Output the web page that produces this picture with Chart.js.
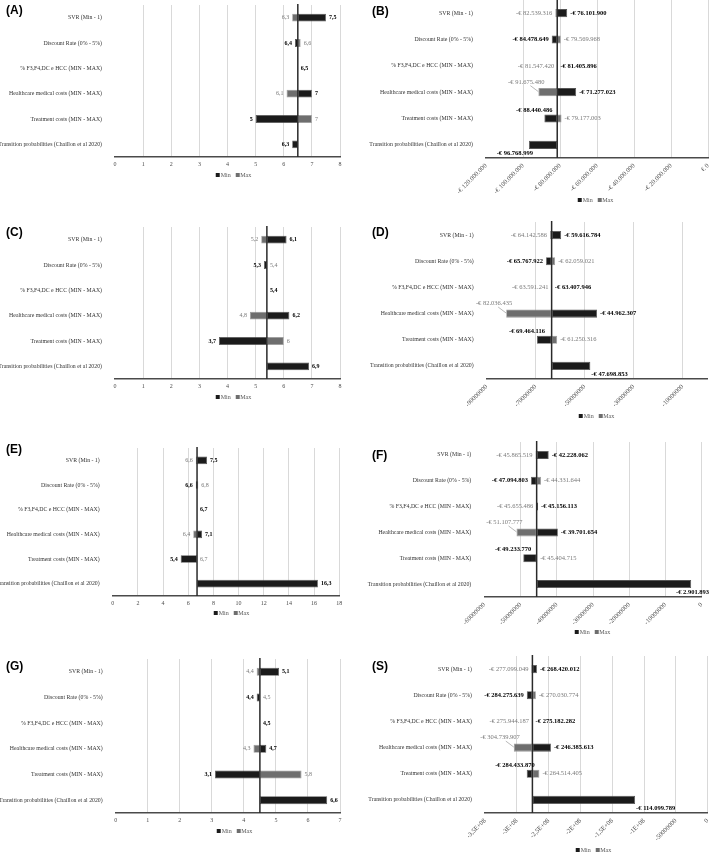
<!DOCTYPE html>
<html>
<head>
<meta charset="utf-8">
<script src="https://cdn.jsdelivr.net/npm/chart.js@4.4.1/dist/chart.umd.min.js"></script>
<style>
  body { margin:0; width:709px; height:852px; overflow:hidden; background:#fff; position:relative; font-family:"Liberation Serif", serif; }
  .panel { position:absolute; }
  .tag { position:absolute; font:bold 12px "Liberation Sans", Arial, sans-serif; color:#000; line-height:12px; }
  .legend { position:absolute; font:6px "Liberation Serif", serif; color:#595959; line-height:8px; transform:translateX(-50%); white-space:nowrap; }
  .legend i { display:inline-block; width:4px; height:4px; margin:0 1px 0 3px; }
</style>
</head>
<body>
<script>
// ---------- dados ----------
const categories = [
  'SVR (Min - 1)',
  'Discount Rate (0% - 5%)',
  '% F3,F4,DC e HCC (MIN - MAX)',
  'Healthcare medical costs (MIN - MAX)',
  'Treatment costs (MIN - MAX)',
  'Transition probabilities (Chaillon et al 2020)'
];
const seriesNames = ['Min', 'Max'];

// (A)
const baseA = 6.5;
const minA = [7.5, 6.4, 6.5, 7, 5, 6.3];
const maxA = [6.3, 6.6, null, 6.1, 7, null];
const ticksA = [0, 1, 2, 3, 4, 5, 6, 7, 8];
const tickLabelsA = ['0', '1', '2', '3', '4', '5', '6', '7', '8'];

// (B)
const baseB = -81500000;
const minB = [-76101900, -84478649, -81405896, -71277023, -88440486, -96768999];
const maxB = [-82539316, -79569968, -81547420, -91675480, -79177003, null];
const ticksB = [-120000000, -100000000, -80000000, -60000000, -40000000, -20000000, 0];
const tickLabelsB = ['-€ 120.000.000', '-€ 100.000.000', '-€ 80.000.000', '-€ 60.000.000', '-€ 40.000.000', '-€ 20.000.000', '€ 0'];

// (C)
const baseC = 5.4;
const minC = [6.1, 5.3, 5.4, 6.2, 3.7, 6.9];
const maxC = [5.2, 5.4, null, 4.8, 6, null];
const ticksC = [0, 1, 2, 3, 4, 5, 6, 7, 8];
const tickLabelsC = ['0', '1', '2', '3', '4', '5', '6', '7', '8'];

// (D)
const baseD = -63500000;
const minD = [-59616784, -65767922, -63407946, -44962307, -69464116, -47698853];
const maxD = [-64142586, -62059021, -63591241, -82036435, -61250316, null];
const ticksD = [-90000000, -70000000, -50000000, -30000000, -10000000];
const tickLabelsD = ['-90000000', '-70000000', '-50000000', '-30000000', '-10000000'];

// (E)
const baseE = 6.7;
const minE = [7.5, 6.6, 6.7, 7.1, 5.4, 16.3];
const maxE = [6.6, 6.8, null, 6.4, 6.7, null];
const ticksE = [0, 2, 4, 6, 8, 10, 12, 14, 16, 18];
const tickLabelsE = ['0', '2', '4', '6', '8', '10', '12', '14', '16', '18'];

// (F)
const baseF = -45550000;
const minF = [-42228062, -47094803, -45156113, -39701654, -49233770, -2901893];
const maxF = [-45865519, -44331644, -45655486, -51107777, -45404715, null];
const ticksF = [-60000000, -50000000, -40000000, -30000000, -20000000, -10000000, 0];
const tickLabelsF = ['-60000000', '-50000000', '-40000000', '-30000000', '-20000000', '-10000000', '0'];

// (G)
const baseG = 4.5;
const minG = [5.1, 4.4, 4.5, 4.7, 3.1, 6.6];
const maxG = [4.4, 4.5, null, 4.3, 5.8, null];
const ticksG = [0, 1, 2, 3, 4, 5, 6, 7];
const tickLabelsG = ['0', '1', '2', '3', '4', '5', '6', '7'];

// (S)
const baseS = -275500000;
const minS = [-268420012, -284275639, -275182282, -246385613, -284433870, -114099789];
const maxS = [-277099049, -270030774, -275944187, -304739907, -264514405, null];
const ticksS = [-350000000, -300000000, -250000000, -200000000, -150000000, -100000000, -50000000, 0];
const tickLabelsS = ['-3,5E+08', '-3E+08', '-2,5E+08', '-2E+08', '-1,5E+08', '-1E+08', '-50000000', '0'];

// ---------- layout dos painéis ----------
const panels = [
  { tag:'(A)', base:baseA, min:minA, max:maxA, ticks:ticksA, tickLabels:tickLabelsA, money:false,
    area:{ l:115, t:5, r:340, b:157 }, cx:0, cw:355, tagAt:[6, 3.5], legendAt:[232, 175] },
  { tag:'(B)', base:baseB, min:minB, max:maxB, ticks:ticksB, tickLabels:tickLabelsB, money:true,
    area:{ l:486, t:0, r:708, b:158 }, cx:355, cw:370, tagAt:[372, 4.5], legendAt:[594, 200] },
  { tag:'(C)', base:baseC, min:minC, max:maxC, ticks:ticksC, tickLabels:tickLabelsC, money:false,
    area:{ l:115, t:227, r:340, b:379 }, cx:0, cw:355, tagAt:[6, 225.5], legendAt:[232, 397] },
  { tag:'(D)', base:baseD, min:minD, max:maxD, ticks:ticksD, tickLabels:tickLabelsD, money:true, xMax:0,
    area:{ l:486.7, t:222, r:707.2, b:379 }, cx:355, cw:370, tagAt:[372, 225.5], legendAt:[595, 416] },
  { tag:'(E)', base:baseE, min:minE, max:maxE, ticks:ticksE, tickLabels:tickLabelsE, money:false,
    area:{ l:112.7, t:448, r:339.3, b:596 }, cx:0, cw:355, tagAt:[6, 442.5], legendAt:[230, 613] },
  { tag:'(F)', base:baseF, min:minF, max:maxF, ticks:ticksF, tickLabels:tickLabelsF, money:true,
    area:{ l:484.3, t:442, r:701.7, b:597 }, cx:355, cw:370, tagAt:[372, 448.5], legendAt:[591, 632] },
  { tag:'(G)', base:baseG, min:minG, max:maxG, ticks:ticksG, tickLabels:tickLabelsG, money:false,
    area:{ l:115.7, t:659, r:340, b:813 }, cx:0, cw:355, tagAt:[6, 659.5], legendAt:[233, 831] },
  { tag:'(S)', base:baseS, min:minS, max:maxS, ticks:ticksS, tickLabels:tickLabelsS, money:true,
    area:{ l:485, t:656, r:707.7, b:813 }, cx:355, cw:370, tagAt:[372, 659.5], legendAt:[592, 850] }
];

// posições especiais dos rótulos nos gráficos em euro
const moneyCallouts = { max:{ 3:'leader' }, min:{ 4:'above', 5:'below' } };

const MIN_COLOR = '#1b1b1b';
const MAX_COLOR = '#6e6e6e';

function euro(v) {
  const s = String(Math.abs(Math.round(v))).replace(/\B(?=(\d{3})+(?!\d))/g, '.');
  return (v < 0 ? '-€ ' : '€ ') + s;
}
function dec(v) { return String(v).replace('.', ','); }

function buildPanel(p) {
  const rotated = p.money;
  const padTop = 12;
  const xh = rotated ? 50 : 14;
  const padBottom = 6;
  const h = (p.area.b - p.area.t) + padTop + xh + padBottom;
  const wrap = document.createElement('div');
  wrap.className = 'panel';
  wrap.style.cssText = `left:${p.cx}px;top:${p.area.t - padTop}px;width:${p.cw}px;height:${h}px`;
  const cv = document.createElement('canvas');
  cv.width = p.cw; cv.height = h;
  cv.style.width = p.cw + 'px'; cv.style.height = h + 'px';
  wrap.appendChild(cv);
  document.body.appendChild(wrap);

  // linha vertical do caso base
  const baseLine = {
    id: 'baseLine',
    afterDatasetsDraw(chart) {
      const ctx = chart.ctx;
      const x = chart.scales.x.getPixelForValue(p.base);
      const { top, bottom } = chart.chartArea;
      ctx.save();
      ctx.strokeStyle = '#2a2a2a';
      ctx.lineWidth = 1.5;
      ctx.beginPath();
      ctx.moveTo(x, top - 1);
      ctx.lineTo(x, bottom);
      ctx.stroke();
      ctx.restore();
    }
  };

  // rótulos de valor nas pontas das barras
  const valueLabels = {
    id: 'valueLabels',
    afterDatasetsDraw(chart) {
      const ctx = chart.ctx;
      const xs = chart.scales.x, ys = chart.scales.y;
      [p.min, p.max].forEach((vals, di) => {
        const isMin = di === 0;
        vals.forEach((v, i) => {
          if (v == null) return;
          const x = xs.getPixelForValue(v);
          const y = ys.getPixelForValue(i);
          const txt = p.money ? euro(v) : dec(v);
          const left = v < p.base;
          const place = p.money ? (isMin ? moneyCallouts.min[i] : moneyCallouts.max[i]) : null;
          ctx.save();
          ctx.font = (isMin ? 'bold ' : '') + (p.money ? '6.5px' : '6px') + ' "Liberation Serif"';
          ctx.fillStyle = isMin ? '#000' : '#7a7a7a';
          ctx.textBaseline = 'middle';
          let tx, ty = y;
          if (place === 'leader') {
            ctx.textAlign = 'right';
            tx = x + 6; ty = y - 10;
            ctx.strokeStyle = '#9a9a9a';
            ctx.lineWidth = 0.7;
            ctx.beginPath();
            ctx.moveTo(x - 8, y - 6.5);
            ctx.lineTo(x, y - 0.5);
            ctx.stroke();
          } else if (place === 'above') {
            ctx.textAlign = 'right';
            tx = x + 8; ty = y - 8.5;
          } else if (place === 'below') {
            ty = y + 8.5;
            if (left) { ctx.textAlign = 'right'; tx = x + 4; }
            else {
              ctx.textAlign = 'left'; tx = x + 1;
              const w = ctx.measureText(txt).width;
              if (p.cx + tx + w > 709) tx = 709 - p.cx - w;
            }
          } else {
            ctx.textAlign = left ? 'right' : 'left';
            tx = left ? x - 3 : x + 3;
          }
          ctx.fillText(txt, tx, ty);
          ctx.restore();
        });
      });
    }
  };

  new Chart(cv, {
    type: 'bar',
    data: {
      labels: categories,
      datasets: [
        { label: seriesNames[0], data: p.min.map(v => v == null ? null : [p.base, v]),
          backgroundColor: MIN_COLOR, borderColor: '#555', borderWidth: 0.8, borderSkipped: false },
        { label: seriesNames[1], data: p.max.map(v => v == null ? null : [p.base, v]),
          backgroundColor: MAX_COLOR, borderColor: '#9a9a9a', borderWidth: 0.8, borderSkipped: false }
      ]
    },
    options: {
      indexAxis: 'y',
      responsive: false,
      animation: false,
      devicePixelRatio: 1,
      datasets: { bar: { grouped: false, categoryPercentage: 1, barPercentage: 0.31 } },
      layout: { padding: { left: 0, top: padTop, right: p.cx + p.cw - p.area.r, bottom: padBottom } },
      scales: {
        x: {
          min: p.ticks[0],
          max: p.xMax !== undefined ? p.xMax : p.ticks[p.ticks.length - 1],
          afterBuildTicks: s => { s.ticks = p.ticks.map(v => ({ value: v })); },
          afterFit: s => { s.height = xh; },
          grid: { color: c => c.index === 0 ? 'rgba(0,0,0,0)' : '#d9d9d9', lineWidth: 1, drawTicks: false },
          border: { color: '#4a4a4a', width: 1.5 },
          ticks: {
            callback: (v, i) => p.tickLabels[i],
            autoSkip: false,
            padding: 4,
            minRotation: rotated ? 45 : 0,
            maxRotation: rotated ? 45 : 0,
            color: '#4d4d4d',
            font: { family: '"Liberation Serif"', size: rotated ? 6.5 : 6 }
          }
        },
        y: {
          afterFit: s => { s.width = p.area.l - p.cx; },
          grid: { display: false },
          border: { display: false },
          ticks: { color: '#333', padding: 5, font: { family: '"Liberation Serif"', size: 5.8 } }
        }
      },
      plugins: { legend: { display: false }, tooltip: { enabled: false } }
    },
    plugins: [baseLine, valueLabels]
  });

  const tag = document.createElement('div');
  tag.className = 'tag';
  tag.textContent = p.tag;
  tag.style.left = p.tagAt[0] + 'px';
  tag.style.top = p.tagAt[1] + 'px';
  document.body.appendChild(tag);

  const lg = document.createElement('div');
  lg.className = 'legend';
  lg.innerHTML = `<i style="background:${MIN_COLOR}"></i>${seriesNames[0]} <i style="background:${MAX_COLOR}"></i>${seriesNames[1]}`;
  lg.style.left = p.legendAt[0] + 'px';
  lg.style.top = (p.legendAt[1] - 4) + 'px';
  document.body.appendChild(lg);
}

panels.forEach(buildPanel);
</script>
</body>
</html>
